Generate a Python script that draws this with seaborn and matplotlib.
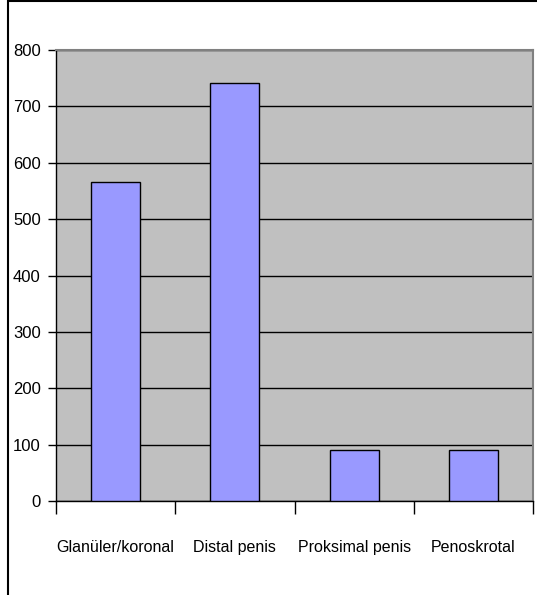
import matplotlib
matplotlib.use("Agg")
import matplotlib.pyplot as plt
import seaborn as sns
import pandas as pd
from matplotlib.patches import Rectangle

categories = ["Glanüler/koronal", "Distal penis", "Proksimal penis", "Penoskrotal"]
values = [565, 742, 90, 90]
yticks = [0, 100, 200, 300, 400, 500, 600, 700, 800]

df = pd.DataFrame({"category": categories, "value": values})

sns.set_theme(style="white")
plt.rcParams["font.family"] = ["Liberation Sans", "DejaVu Sans"]

fig = plt.figure(figsize=(5.37, 5.95), dpi=100)
ax = fig.add_axes([56/537, 1-501/595, (533-56)/537, (501-50)/595])
ax.set_facecolor("#C0C0C0")

sns.barplot(data=df, x="category", y="value", color="#9999FF", width=0.41,
            edgecolor="black", linewidth=1.0, saturation=1, ax=ax, zorder=3)

ax.set_ylim(0, 800)
ax.set_xlim(-0.5, 3.5)
ax.set_yticks(yticks)
ax.set_yticklabels([str(t) for t in yticks], fontsize=12)
ax.yaxis.grid(True, color="black", linewidth=1.0, zorder=1)
ax.set_axisbelow(True)

# x ticks at category boundaries, labels centred under the bars
ax.set_xticks([-0.5, 0.5, 1.5, 2.5, 3.5])
ax.set_xticklabels([])
ax.set_xticks([0, 1, 2, 3], minor=True)
ax.set_xticklabels(categories, minor=True, fontsize=11.5)
ax.tick_params(axis="x", which="major", direction="out", length=9, width=1, color="black", bottom=True)
ax.tick_params(axis="x", which="minor", length=0, pad=28, labelcolor="black")
ax.tick_params(axis="y", direction="out", length=6, width=1, color="black", left=True, pad=5, labelcolor="black")

ax.set_xlabel("")
ax.set_ylabel("")

for side in ["left", "bottom"]:
    ax.spines[side].set_color("black")
    ax.spines[side].set_linewidth(1.0)
for side in ["top", "right"]:
    ax.spines[side].set_color("#808080")
    ax.spines[side].set_linewidth(1.5)

# outer chart frame (top and left edges visible)
fig.patches.append(Rectangle((8/537, -0.1), 1.2, 1 - 1.5/595 + 0.1, transform=fig.transFigure,
                             fill=False, edgecolor="black", linewidth=1.5, zorder=0))

fig.savefig("out.png", dpi=100, facecolor="white")
